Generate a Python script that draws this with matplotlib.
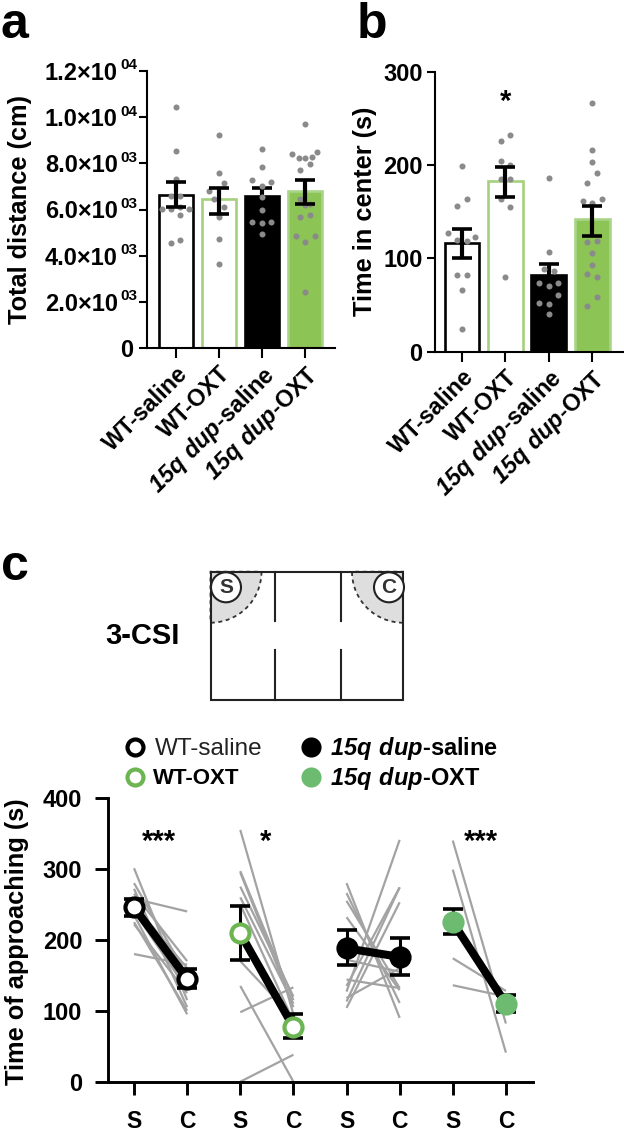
import matplotlib
matplotlib.use('Agg')
import matplotlib.pyplot as plt
from matplotlib.patches import Rectangle, Wedge, Circle

plt.rcParams['font.family'] = ['Liberation Sans', 'DejaVu Sans']
plt.rcParams['font.weight'] = 'bold'
plt.rcParams['axes.labelweight'] = 'bold'
plt.rcParams['mathtext.fontset'] = 'custom'
plt.rcParams['mathtext.bfit'] = 'Liberation Sans:italic:bold'
plt.rcParams['mathtext.default'] = 'regular'

groups = ['WT-saline', 'WT-OXT', r'$\mathbfit{15q\ dup}$-saline', r'$\mathbfit{15q\ dup}$-OXT']

# panel a
dist_means = [6640, 6440, 6600, 6800]
dist_upper = [7190, 6950, 6950, 7260]
dist_lower = [6110, 5820, 6250, 6220]
dist_ticks = [0, 2000, 4000, 6000, 8000, 10000, 12000]
dist_ticklabels = ['0', '2.0×10', '4.0×10', '6.0×10', '8.0×10', '1.0×10', '1.2×10']
dist_exponents = ['', '03', '03', '03', '03', '04', '04']
dist_wt_saline = [10440, 8520, 7335, 6585, 6585, 6035, 6007, 6108, 6035, 5776, 4549, 4693]
dist_wt_saline_x = [0, 0, 0, -0.12, 0.1, -0.31, -0.12, 0.1, 0.3, 0.1, -0.12, 0.1]
dist_wt_oxt = [9213, 7595, 6787, 7162, 6440, 6108, 5819, 5675, 4736, 3653]
dist_wt_oxt_x = [0, 0, -0.22, 0.11, -0.11, 0.11, 0, 0, 0, 0]
dist_dup_saline = [8606, 7826, 7292, 7176, 7003, 6541, 5963, 5458, 5415, 5458, 4938]
dist_dup_saline_x = [0, 0, -0.22, 0.22, 0, 0, 0, -0.22, 0, 0.22, 0]
dist_dup_oxt = [9718, 8389, 8505, 8245, 8230, 8274, 7985, 7696, 6469, 6224, 5675, 5776, 4837, 4837, 4592, 2426, 6200]
dist_dup_oxt_x = [0, -0.29, 0.29, -0.13, 0, 0.16, 0.12, -0.12, -0.11, 0.12, -0.11, 0.12, -0.21, 0.23, 0, 0, 0]

# panel b
center_means = [116, 182.5, 82.5, 142.5]
center_upper = [131, 198, 93.5, 156]
center_lower = [100, 166, 72, 124]
center_ticks = [0, 100, 200, 300]
center_wt_saline = [199, 164, 156, 127, 120, 119, 123, 82, 82.5, 66, 24]
center_wt_saline_x = [0, 0.11, -0.11, -0.32, -0.11, 0.11, 0.3, -0.11, 0.11, 0, 0]
center_wt_oxt = [232, 226, 204, 200, 185, 185, 164, 155, 80]
center_wt_oxt_x = [0.11, -0.11, -0.11, 0.11, -0.11, 0.11, -0.11, 0.11, 0]
center_dup_saline = [186, 107, 89, 86, 74, 74, 70, 61, 52, 51, 40]
center_dup_saline_x = [0, 0, -0.11, 0.11, -0.22, 0.22, 0, 0.22, -0.22, 0, 0]
center_dup_oxt = [267, 216, 203, 191, 181, 161, 159, 164, 118, 119, 106, 93, 83, 80, 59, 49]
center_dup_oxt_x = [0, 0, 0, 0.11, -0.11, -0.22, 0, 0.22, -0.11, 0.11, 0, 0, -0.11, 0.11, 0.11, -0.11]

# panel c
approach_ticks = [0, 100, 200, 300, 400]
approach_xlabels = ['S', 'C', 'S', 'C', 'S', 'C', 'S', 'C']
approach_means = [[246, 145], [209, 77], [188, 176], [225, 110]]
approach_upper = [[258, 159], [248, 95], [214, 202], [244, 122]]
approach_lower = [[234, 132], [172, 61], [165, 151], [208, 98]]
pairs_wt_saline = [[301, 115], [280, 150], [272, 105], [265, 170], [258, 240], [250, 160],
                   [240, 130], [235, 95], [225, 100], [222, 125], [180, 165]]
pairs_wt_oxt = [[355, 95], [297, 115], [295, 105], [275, 120], [260, 110], [250, 85],
                [170, 90], [135, 0], [98, 133], [0, 38]]
pairs_dup_saline = [[280, 90], [266, 111], [255, 132], [232, 129], [172, 155], [144, 132],
                    [127, 341], [135, 274], [113, 274], [104, 253], [118, 160]]
pairs_dup_oxt = [[340, 82], [299, 41], [174, 128], [136, 120]]
approach_stars = ['***', '*', '', '***']

WHITE = 'white'
BLACK = 'black'
GREEN_EDGE = '#a5d17f'
GREEN_FILL = '#8cc455'
GREEN_DARK = '#a9d48a'
GREEN_OPEN = '#6cb552'
GREEN_DOT = '#6dbb70'
GRAY = '#8a8a8a'
LINE_GRAY = '#a3a3a3'

W, H = 624, 1131
fig = plt.figure(figsize=(W / 100, H / 100), dpi=100)


def px_axes(left, top, right, bottom):
    return fig.add_axes([left / W, 1 - bottom / H, (right - left) / W, (bottom - top) / H])


def bar_panel(ax, means, upper, lower, pts, pts_x, ylim, xlim):
    faces = [WHITE, WHITE, BLACK, GREEN_FILL]
    edges = [BLACK, GREEN_EDGE, BLACK, GREEN_DARK]
    for i in range(4):
        ax.bar(i, means[i], width=0.8, facecolor=faces[i], edgecolor=edges[i], linewidth=1.9, zorder=2)
        # dots stay visible on the black bar, everywhere else the error bar covers them
        ax.scatter([i + d for d in pts_x[i]], pts[i], s=19, color=GRAY, linewidths=0,
                   zorder=5 if i == 2 else 3, clip_on=False)
        ax.errorbar(i, means[i], yerr=[[means[i] - lower[i]], [upper[i] - means[i]]], color=BLACK,
                    elinewidth=3, capsize=7.5, capthick=2.6, zorder=4)
    ax.set_xlim(*xlim)
    ax.set_ylim(*ylim)
    for s in ['top', 'right']:
        ax.spines[s].set_visible(False)
    for s in ['left', 'bottom']:
        ax.spines[s].set_linewidth(1.5)
    ax.set_xticks(range(4))
    ax.set_xticklabels(groups, rotation=45, ha='right', rotation_mode='anchor', fontsize=16.8)
    ax.tick_params(axis='x', length=7, width=1.5, pad=3)
    ax.tick_params(axis='y', length=6, width=1.5, labelsize=17)


# a
ax_a = px_axes(147, 71, 335, 348)
bar_panel(ax_a, dist_means, dist_upper, dist_lower,
          [dist_wt_saline, dist_wt_oxt, dist_dup_saline, dist_dup_oxt],
          [dist_wt_saline_x, dist_wt_oxt_x, dist_dup_saline_x, dist_dup_oxt_x],
          (0, 12000), (-0.67, 3.7))
ax_a.set_yticks(dist_ticks)
ax_a.set_yticklabels(dist_ticklabels)
for tick, exp in zip(ax_a.yaxis.get_major_ticks(), dist_exponents):
    tick.set_pad(15 if exp else 4)
for v, exp in zip(dist_ticks, dist_exponents):
    ax_a.annotate(exp, (0, v), xycoords=ax_a.get_yaxis_transform(), xytext=(-7, 4),
                  textcoords='offset points', ha='right', va='center', fontsize=11)
ax_a.set_ylabel('Total distance (cm)', fontsize=18.3)
ax_a.yaxis.set_label_coords(-0.61, 0.5)

# b
ax_b = px_axes(435, 71.7, 623, 351.7)
bar_panel(ax_b, center_means, center_upper, center_lower,
          [center_wt_saline, center_wt_oxt, center_dup_saline, center_dup_oxt],
          [center_wt_saline_x, center_wt_oxt_x, center_dup_saline_x, center_dup_oxt_x],
          (0, 300), (-0.62, 3.71))
ax_b.set_yticks(center_ticks)
ax_b.tick_params(axis='y', pad=3)
ax_b.set_ylabel('Time in center (s)', fontsize=18.3)
ax_b.yaxis.set_label_coords(-0.31, 0.5)
ax_b.text(1, 268, '*', ha='center', va='center', fontsize=21)

# c
ax_c = px_axes(108, 798, 533, 1081.7)
pairs = [pairs_wt_saline, pairs_wt_oxt, pairs_dup_saline, pairs_dup_oxt]
marker_faces = [WHITE, WHITE, BLACK, GREEN_DOT]
marker_edges = [BLACK, GREEN_OPEN, BLACK, GREEN_DOT]
for g in range(4):
    xs = [2 * g, 2 * g + 1]
    for p in pairs[g]:
        ax_c.plot(xs, p, color=LINE_GRAY, lw=1.6, zorder=2, solid_capstyle='butt', clip_on=False)
    m = approach_means[g]
    ax_c.errorbar(xs, m, yerr=[[m[k] - approach_lower[g][k] for k in range(2)],
                               [approach_upper[g][k] - m[k] for k in range(2)]],
                  fmt='none', ecolor=BLACK, elinewidth=2.2, capsize=7.5, capthick=2.6, zorder=3)
    ax_c.plot(xs, m, color=BLACK, lw=5.8, zorder=4, solid_capstyle='butt')
    ax_c.plot(xs, m, ls='none', marker='o', ms=13, mfc=marker_faces[g], mec=marker_edges[g], mew=3, zorder=5)
    if approach_stars[g]:
        ax_c.text(2 * g + [0.47, 0.47, 0, 0.53][g], 338, approach_stars[g], ha='center', va='center', fontsize=21)
ax_c.set_xlim(-0.49, 7.51)
ax_c.set_ylim(0, 400)
ax_c.set_xticks(range(8))
ax_c.set_xticklabels(approach_xlabels, fontsize=16.5)
ax_c.set_yticks(approach_ticks)
for s in ['top', 'right']:
    ax_c.spines[s].set_visible(False)
for s in ['left', 'bottom']:
    ax_c.spines[s].set_linewidth(2.1)
ax_c.tick_params(axis='x', length=9.5, width=2.1, pad=11)
ax_c.tick_params(axis='y', length=9.5, width=2.1, pad=9, labelsize=17)
ax_c.set_ylabel('Time of approaching (s)', fontsize=18.3)
ax_c.yaxis.set_label_coords(-0.185, 0.495)

# overlay in pixel coordinates: letters, arena sketch, legend
ov = fig.add_axes([0, 0, 1, 1], zorder=10)
ov.set_xlim(0, W)
ov.set_ylim(H, 0)
ov.axis('off')
for letter, lx, ly in [('a', 1, 38), ('b', 357, 38), ('c', 1, 580)]:
    ov.text(lx, ly, letter, fontsize=36, ha='left', va='baseline')
ov.text(105, 636, '3-CSI', fontsize=21, ha='left', va='center')

arena_l, arena_r, arena_t, arena_b = 210.5, 403, 571.7, 700
wall_l, wall_r = 275.3, 340.7
ov.add_patch(Wedge((arena_l, arena_t), 51, 0, 90, facecolor='#dedede', edgecolor='none'))
ov.add_patch(Wedge((arena_r, arena_t), 51, 90, 180, facecolor='#dedede', edgecolor='none'))
ov.add_patch(Wedge((arena_l, arena_t), 51, 0, 90, fill=False, edgecolor='#333333', lw=1.3, ls=(0, (2.2, 2))))
ov.add_patch(Wedge((arena_r, arena_t), 51, 90, 180, fill=False, edgecolor='#333333', lw=1.3, ls=(0, (2.2, 2))))
ov.add_patch(Rectangle((arena_l, arena_t), arena_r - arena_l, arena_b - arena_t, fill=False, edgecolor='#222222', lw=1.5))
for wx in [wall_l, wall_r]:
    ov.plot([wx, wx], [arena_t, 621], color='#222222', lw=1.5)
    ov.plot([wx, wx], [650, arena_b], color='#222222', lw=1.5)
for cx, lab in [(226, 'S'), (389, 'C')]:
    ov.add_patch(Circle((cx, 587.3), 15, facecolor=WHITE, edgecolor='#222222', lw=1.5))
    ov.text(cx, 587.8, lab, fontsize=15, ha='center', va='center', color='#333333')

ov.plot(135, 747, 'o', ms=11.5, mfc=WHITE, mec=BLACK, mew=3)
ov.plot(135, 777, 'o', ms=11.5, mfc=WHITE, mec=GREEN_OPEN, mew=3)
ov.plot(311, 747, 'o', ms=14.5, color=BLACK, mew=0)
ov.plot(311, 777, 'o', ms=14.5, color=GREEN_DOT, mew=0)
ov.text(155, 749, 'WT-saline', fontsize=17.5, fontweight='normal', va='center', color='#222222')
ov.text(153, 778, 'WT-OXT', fontsize=16, va='center')
ov.text(330, 749, r'$\mathbfit{15q\ dup}$-saline', fontsize=17, va='center')
ov.text(330, 778, r'$\mathbfit{15q\ dup}$-OXT', fontsize=17, va='center')

fig.savefig('out.png', dpi=100)
